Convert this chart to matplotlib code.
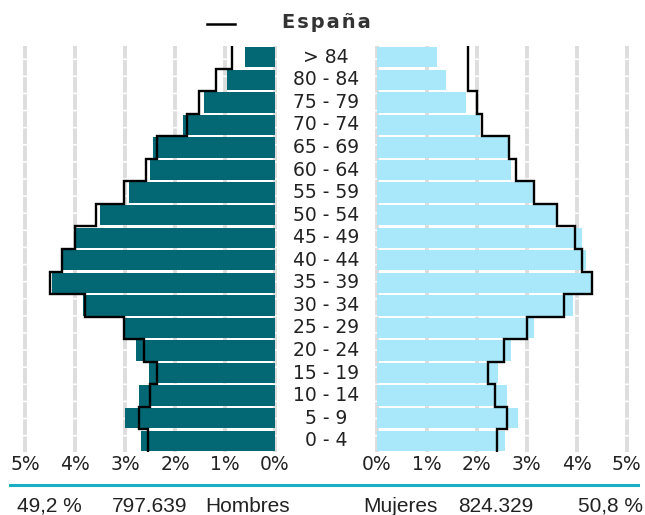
import matplotlib
matplotlib.use("Agg")
import matplotlib.pyplot as plt
import numpy as np

ages = ["0 - 4", "5 - 9", "10 - 14", "15 - 19", "20 - 24", "25 - 29", "30 - 34",
        "35 - 39", "40 - 44", "45 - 49", "50 - 54", "55 - 59", "60 - 64",
        "65 - 69", "70 - 74", "75 - 79", "80 - 84", "> 84"]
# percentages (bottom row first)
hombres = [2.68, 3.00, 2.73, 2.53, 2.78, 3.02, 3.85, 4.47, 4.25, 3.98,
           3.50, 2.92, 2.50, 2.45, 1.85, 1.42, 0.96, 0.60]
mujeres = [2.56, 2.82, 2.60, 2.42, 2.68, 3.14, 3.92, 4.29, 4.18, 4.10,
           3.59, 3.13, 2.69, 2.63, 2.07, 1.78, 1.38, 1.20]
espana_h = [2.55, 2.73, 2.50, 2.37, 2.63, 3.03, 3.81, 4.50, 4.27, 4.00,
            3.58, 3.03, 2.59, 2.37, 1.77, 1.53, 1.18, 0.87]
espana_m = [2.41, 2.60, 2.37, 2.23, 2.55, 3.00, 3.74, 4.30, 4.10, 3.97,
            3.60, 3.15, 2.78, 2.65, 2.10, 2.00, 1.83, 1.83]
ticks = [0, 1, 2, 3, 4, 5]
tick_labels = ["0%", "1%", "2%", "3%", "4%", "5%"]
total_h = "797.639"
total_m = "824.329"
pct_h = "49,2 %"
pct_m = "50,8 %"

W, H = 645, 515
fig = plt.figure(figsize=(W / 100, H / 100), dpi=100)

n = len(ages)
y = np.arange(n)
grid_color = "#dddddd"

def step_xy(vals):
    xs, ys = [], []
    for i, v in enumerate(vals):
        xs += [v, v]
        ys += [i - 0.5, i + 0.5]
    return xs, ys

def setup(ax, xmin, xmax):
    ax.set_xlim(xmin, xmax)
    ax.set_ylim(-0.5, n - 0.5)
    for s in ax.spines.values():
        s.set_visible(False)
    ax.set_yticks([])
    ax.set_xticks(ticks)
    ax.set_xticklabels(tick_labels, fontsize=13.5, color="#222222", family="DejaVu Sans")
    ax.tick_params(axis="x", length=0, pad=2)
    for t in ticks:
        ax.axvline(t, color=grid_color, lw=2.8, ls=(0, (4, 0.4)), zorder=0, clip_on=False)

fb = (H - 452) / H
fh = 406 / H
axl = fig.add_axes([25 / W, fb, 250 / W, fh])
axr = fig.add_axes([376.7 / W, fb, 250 / W, fh])
setup(axl, 5, 0)
setup(axr, 0, 5)

axl.barh(y, hombres, height=0.9, color="#036874", zorder=2)
axr.barh(y, mujeres, height=0.9, color="#a9e8fb", zorder=2)

xs, ys = step_xy(espana_h)
axl.plot(xs, ys, color="black", lw=1.7, zorder=3, solid_joinstyle="miter")
xs, ys = step_xy(espana_m)
axr.plot(xs, ys, color="black", lw=1.7, zorder=3, solid_joinstyle="miter")

# age labels
for i, a in enumerate(ages):
    fig.text(326 / W, fb + fh * (i + 0.5) / n, a, ha="center", va="center",
             fontsize=13.5, color="#222222", family="DejaVu Sans")

# legend
fig.add_artist(plt.Line2D([207 / W, 235 / W], [1 - 23.5 / H, 1 - 23.5 / H], color="black", lw=1.8))
fig.text(282 / W, 1 - 22 / H, "\u200a".join("España"), ha="left", va="center", fontsize=14,
         fontweight="bold", color="#333333", family="DejaVu Sans")

# separator
fig.add_artist(plt.Line2D([10 / W, 638 / W], [1 - 484.5 / H, 1 - 484.5 / H], color="#1aafc5", lw=2.2))

# bottom texts
by = 1 - 506 / H
fs = 15
kw = dict(va="center", fontsize=fs, color="#222222", family="Liberation Sans")
fig.text(17 / W, by, pct_h, ha="left", **kw)
fig.text(112 / W, by, total_h, ha="left", **kw)
fig.text(205 / W, by, "Hombres", ha="left", **kw)
fig.text(363 / W, by, "Mujeres", ha="left", **kw)
fig.text(458 / W, by, total_m, ha="left", **kw)
fig.text(643 / W, by, pct_m, ha="right", **kw)

fig.savefig("out.png", dpi=100)
